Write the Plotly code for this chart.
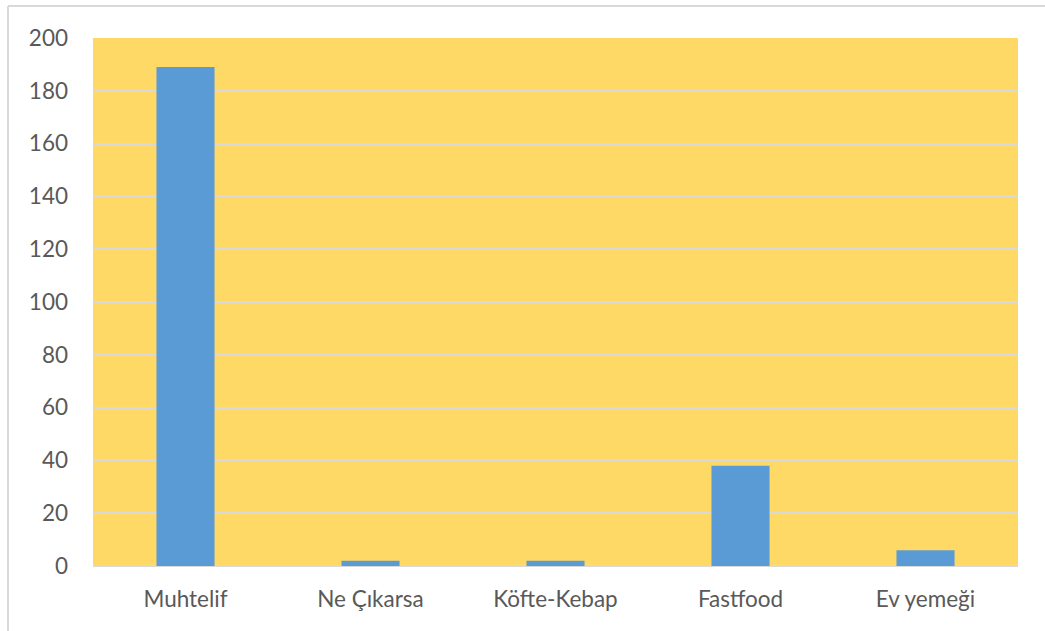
import plotly.graph_objects as go

categories = ["Muhtelif", "Ne Çıkarsa", "Köfte-Kebap", "Fastfood", "Ev yemeği"]
values = [189, 2, 2, 38, 6]
y_ticks = [0, 20, 40, 60, 80, 100, 120, 140, 160, 180, 200]

W, H = 1045, 631
L, R, T, B = 93, 27, 38, 65
pw = W - L - R
ph = H - T - B

fig = go.Figure(go.Bar(
    x=categories, y=values,
    marker=dict(color="#5B9BD5", line=dict(width=0)),
))

font = dict(family="Lato, Carlito, sans-serif", size=22.5, color="#595959")

fig.update_layout(
    width=W, height=H,
    margin=dict(l=L, r=R, t=T, b=B),
    paper_bgcolor="white",
    plot_bgcolor="#FFD966",
    bargap=0.686,
    showlegend=False,
    font=font,
    xaxis=dict(showgrid=False, showline=False, ticks="", ticklabelstandoff=17,
               tickfont=font, fixedrange=True),
    yaxis=dict(range=[0, 200], tickvals=y_ticks, showgrid=True, gridcolor="#D9D9D9",
               gridwidth=1.5, zeroline=True, zerolinecolor="#D9D9D9", zerolinewidth=1.5,
               showline=False, ticks="", ticklabelstandoff=24, tickfont=font,
               fixedrange=True),
    shapes=[
        dict(type="line", xref="paper", yref="paper",
             x0=(8 - L) / pw, x1=(W + 5 - L) / pw,
             y0=(H - B - 6) / ph, y1=(H - B - 6) / ph,
             line=dict(color="#D9D9D9", width=2)),
        dict(type="line", xref="paper", yref="paper",
             x0=(8 - L) / pw, x1=(8 - L) / pw,
             y0=(H - B - 6) / ph, y1=-(B + 5) / ph,
             line=dict(color="#D9D9D9", width=2)),
    ],
)

fig.write_html("out.html")
